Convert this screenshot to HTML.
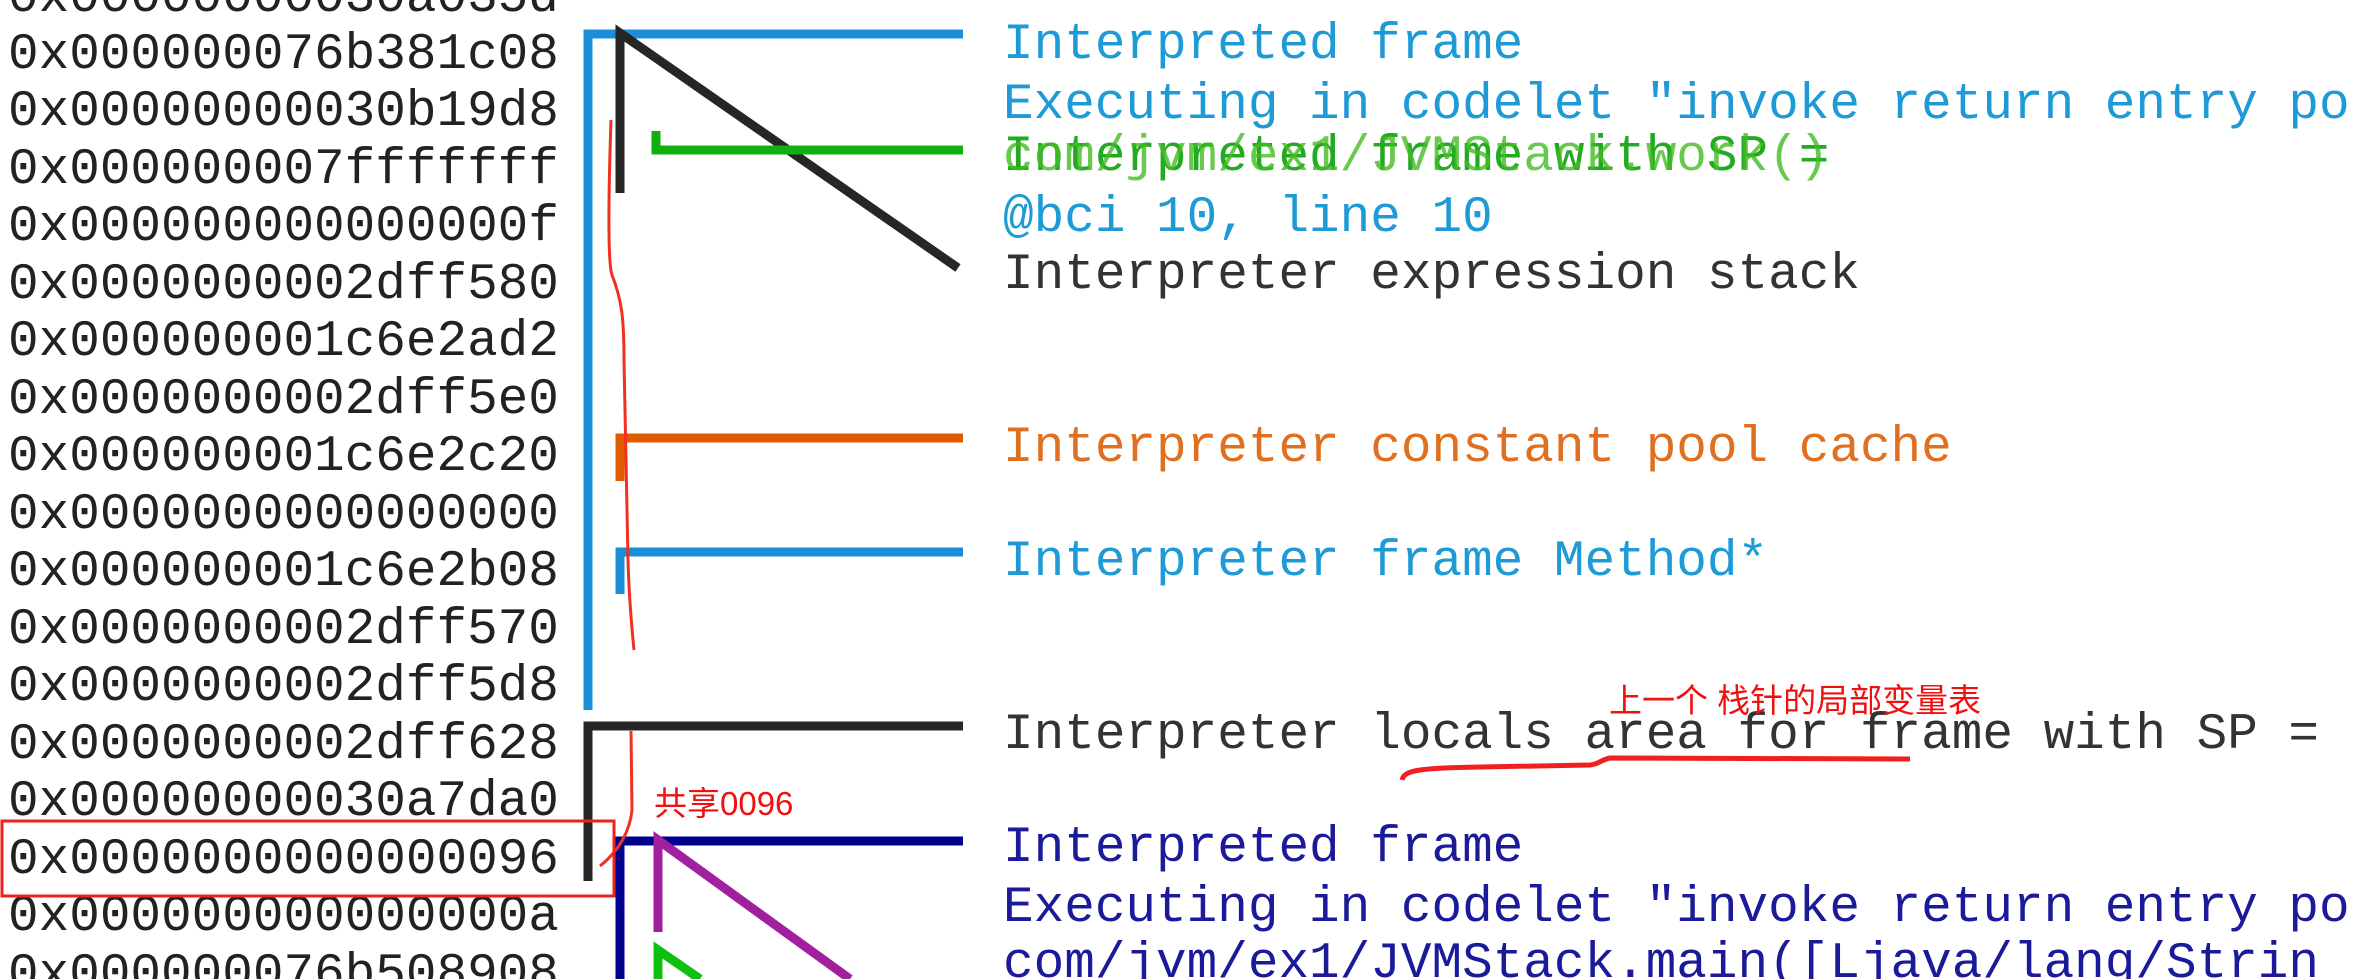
<!DOCTYPE html>
<html><head><meta charset="utf-8"><style>
html,body{margin:0;padding:0;background:#fff;width:2358px;height:979px;overflow:hidden;position:relative}
.t{position:absolute;white-space:pre;font-family:"Liberation Mono",monospace;font-size:51px;height:60px;line-height:60px}
.a{left:8px;color:#222}
.r{left:1003px}
.cn{position:absolute;font-family:"Liberation Sans","Noto Sans CJK SC",sans-serif;color:#f01010;font-size:33px;line-height:38px;white-space:pre}
svg{position:absolute;left:0;top:0}
</style></head><body>
<div class="t a" style="top:-31px">0x00000000030a035d</div>
<div class="t a" style="top:26px">0x000000076b381c08</div>
<div class="t a" style="top:83px">0x00000000030b19d8</div>
<div class="t a" style="top:141px">0x000000007fffffff</div>
<div class="t a" style="top:198px">0x000000000000000f</div>
<div class="t a" style="top:256px">0x0000000002dff580</div>
<div class="t a" style="top:313px">0x000000001c6e2ad2</div>
<div class="t a" style="top:371px">0x0000000002dff5e0</div>
<div class="t a" style="top:428px">0x000000001c6e2c20</div>
<div class="t a" style="top:486px">0x0000000000000000</div>
<div class="t a" style="top:543px">0x000000001c6e2b08</div>
<div class="t a" style="top:601px">0x0000000002dff570</div>
<div class="t a" style="top:658px">0x0000000002dff5d8</div>
<div class="t a" style="top:716px">0x0000000002dff628</div>
<div class="t a" style="top:773px">0x00000000030a7da0</div>
<div class="t a" style="top:831px">0x0000000000000096</div>
<div class="t a" style="top:888px">0x000000000000000a</div>
<div class="t a" style="top:946px">0x000000076b508908</div>

<div class="t r" style="top:16px;color:#1e9ad6">Interpreted frame</div>
<div class="t r" style="top:76px;color:#1e9ad6">Executing in codelet "invoke return entry po</div>
<div class="t r" style="top:128px;color:#22aa22">Interpreted frame with SP =</div>
<div class="t r" style="top:128px;color:#44bb22;opacity:.8">com/jvm/ex1/JVMStack.work()</div>
<div class="t r" style="top:189px;color:#1e9ad6">@bci 10, line 10</div>
<div class="t r" style="top:246px;color:#333">Interpreter expression stack</div>
<div class="t r" style="top:419px;color:#e07020">Interpreter constant pool cache</div>
<div class="t r" style="top:533px;color:#1e9ad6">Interpreter frame Method*</div>
<div class="t r" style="top:706px;color:#333">Interpreter locals area for frame with SP =</div>
<div class="t r" style="top:819px;color:#1a1a9a">Interpreted frame</div>
<div class="t r" style="top:879px;color:#1a1a9a">Executing in codelet "invoke return entry po</div>
<div class="t r" style="top:935px;color:#1a1a9a">com/jvm/ex1/JVMStack.main([Ljava/lang/Strin</div>

<div class="cn" style="left:654px;top:785px">共享0096</div>
<div class="cn" style="left:1609px;top:682px">上一个 栈针的局部变量表</div>

<svg width="2358" height="979" viewBox="0 0 2358 979">
<g fill="none" stroke-linecap="butt">
<path d="M588 710 V34 H963" stroke="#1a8fd8" stroke-width="9"/>
<path d="M620 193 V33 L958 268" stroke="#262626" stroke-width="9"/>
<path d="M656 131 V150 H963" stroke="#10b010" stroke-width="9"/>
<path d="M620 481 V438 H963" stroke="#e05a00" stroke-width="9"/>
<path d="M620 594 V552 H963" stroke="#1a8fd8" stroke-width="9"/>
<path d="M588 881 V726 H963" stroke="#262626" stroke-width="9"/>
<path d="M620 979 V841 H963" stroke="#000090" stroke-width="9"/>
<path d="M658 932 V840 L850 979" stroke="#a020a0" stroke-width="9"/>
<path d="M658 979 V950 L700 979" stroke="#10c010" stroke-width="9"/>
<path d="M611 120 C609 180 607 260 612 275 C622 300 624 320 624 360 L628 560 C629 600 632 630 634 650" stroke="#f03020" stroke-width="3"/>
<path d="M631 731 L632 810 C630 830 620 850 600 866" stroke="#f03020" stroke-width="3"/>
<path d="M1402 780 C1404 770 1420 768 1480 767 L1590 765 C1600 764 1600 760 1610 758 L1910 759" stroke="#f02020" stroke-width="5"/>
<rect x="2" y="821" width="612" height="75" stroke="#f02020" stroke-width="3"/>
</g>
</svg>
</body></html>
